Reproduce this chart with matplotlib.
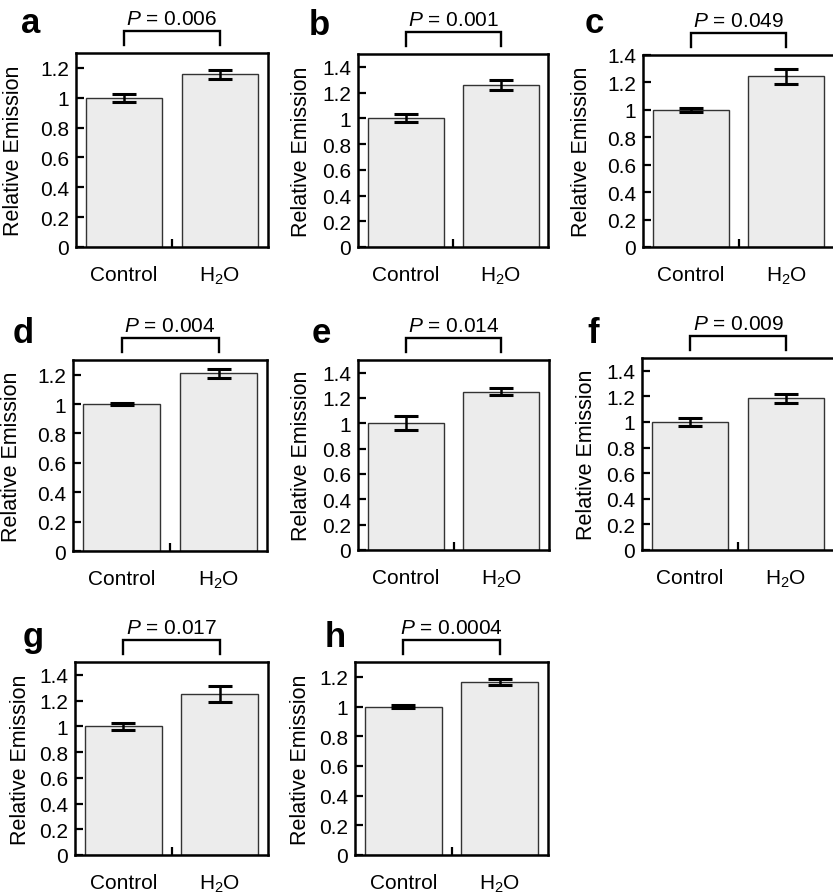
import matplotlib
matplotlib.use("Agg")
import matplotlib.pyplot as plt
import numpy as np

plt.rcParams['font.family'] = ['Liberation Sans', 'DejaVu Sans']
plt.rcParams['mathtext.fontset'] = 'custom'
plt.rcParams['mathtext.rm'] = 'Liberation Sans'
plt.rcParams['mathtext.it'] = 'Liberation Sans:italic'

# ---- data -------------------------------------------------------------
panel_letters = ['a', 'b', 'c', 'd', 'e', 'f', 'g', 'h']
groups = ['Control', 'H$_2$O']
p_values = ['0.006', '0.001', '0.049', '0.004', '0.014', '0.009', '0.017', '0.0004']
control_mean = [1.0, 1.0, 1.0, 1.0, 1.0, 1.0, 1.0, 1.0]
control_err = [0.026, 0.031, 0.012, 0.008, 0.056, 0.030, 0.029, 0.011]
h2o_mean = [1.157, 1.258, 1.245, 1.210, 1.250, 1.185, 1.251, 1.163]
h2o_err = [0.030, 0.037, 0.055, 0.032, 0.027, 0.037, 0.060, 0.021]
y_top = [1.3, 1.5, 1.4, 1.3, 1.5, 1.5, 1.5, 1.3]
y_tick_top = [1.2, 1.4, 1.4, 1.2, 1.4, 1.4, 1.4, 1.2]

# ---- layout (pixels) --------------------------------------------------
W, H = 833, 895
fig = plt.figure(figsize=(W / 100, H / 100), dpi=100)

# left, right, top, bottom of each plotting frame
frames = [
    (76, 268, 54, 248),
    (358, 548, 55, 248),
    (643, 834, 56, 248),
    (73, 267, 361, 552),
    (358, 549, 361, 551),
    (642, 834, 359, 551),
    (75, 268, 663, 856),
    (355, 548, 663, 856),
]
ylabel_offset = [52, 46, 51, 51, 46, 45, 44, 44]
letter_pos = [(21, 33), (309, 35), (585, 33), (13, 343),
              (312, 343), (587, 343), (23, 647), (325, 647)]

x = np.array([1, 2])

for i, letter in enumerate(panel_letters):
    l, r, t, b = frames[i]
    ax = fig.add_axes([l / W, 1 - b / H, (r - l) / W, (b - t) / H])
    means = [control_mean[i], h2o_mean[i]]
    errs = [control_err[i], h2o_err[i]]
    ax.bar(x, means, width=0.8, color='#ececec', edgecolor='#333333',
           linewidth=1.0, zorder=2)
    ax.errorbar(x, means, yerr=errs, fmt='none', ecolor='black',
                elinewidth=1.8, capsize=8.5, capthick=2.2, zorder=3)

    ax.set_xlim(0.5, 2.5)
    ax.set_ylim(0, y_top[i])
    ticks = np.round(np.arange(0, y_tick_top[i] + 1e-9, 0.2), 1)
    ax.set_yticks(ticks)
    ax.set_yticklabels(['%g' % v for v in ticks])
    ax.tick_params(axis='y', direction='in', length=6, width=1.6,
                   labelsize=15, pad=5, right=False)
    ax.set_xticks(x)
    ax.set_xticklabels(groups)
    ax.tick_params(axis='x', which='major', length=0, labelsize=15, pad=13)
    ax.set_xticks([1.5], minor=True)
    ax.tick_params(axis='x', which='minor', direction='in', length=6,
                   width=1.6, top=False)
    for s in ax.spines.values():
        s.set_linewidth(1.8)
        s.set_color('black')

    ax.set_ylabel('Relative Emission', fontsize=15.5)
    ax.yaxis.set_label_coords(-ylabel_offset[i] / (r - l), 0.5)

    # significance bracket
    h_px = b - t
    y_hi = 1 + 22 / h_px
    y_lo = 1 + 8 / h_px
    trans = ax.get_xaxis_transform()
    ax.plot([1, 1, 2, 2], [y_lo, y_hi, y_hi, y_lo], color='black',
            linewidth=1.7, transform=trans, clip_on=False,
            solid_joinstyle='miter')
    ax.text(1.5, 1 + 29 / h_px, '$P$ = ' + p_values[i], transform=trans,
            ha='center', va='baseline', fontsize=15)

    lx, ly = letter_pos[i]
    fig.text(lx / W, 1 - ly / H, letter, fontsize=25, fontweight='bold',
             ha='left', va='baseline')

fig.savefig('out.png', dpi=100)
